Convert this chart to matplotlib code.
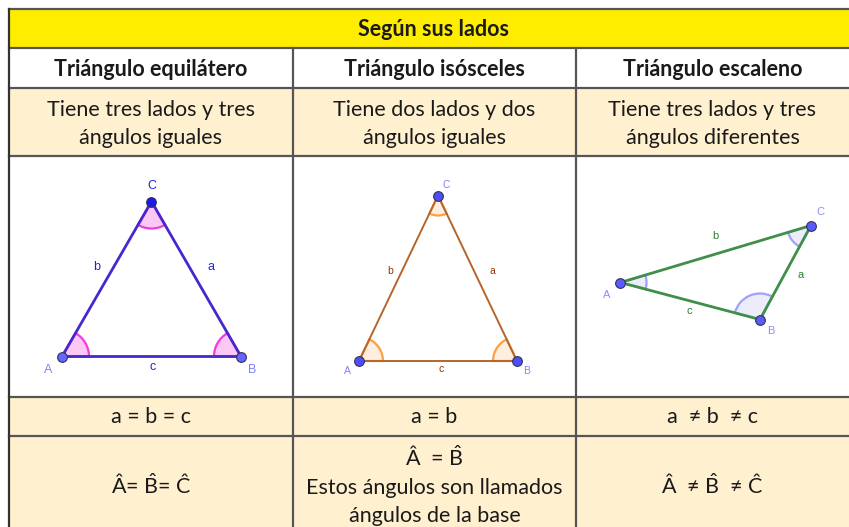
import numpy as np
import matplotlib.pyplot as plt
from matplotlib.patches import Rectangle, Wedge

plt.rcParams['font.family'] = ['Lato', 'DejaVu Sans']
plt.rcParams['mathtext.fontset'] = 'custom'
plt.rcParams['mathtext.rm'] = 'Lato'
plt.rcParams['mathtext.it'] = 'Lato'

B_HAT = r'$\hat{\mathrm{B}}$'

# table content
title = 'Según sus lados'
col_titles = ['Triángulo equilátero', 'Triángulo isósceles', 'Triángulo escaleno']
descriptions = ['Tiene tres lados y tres\nángulos iguales',
                'Tiene dos lados y dos\nángulos iguales',
                'Tiene tres lados y tres\nángulos diferentes']
side_rules = ['a = b = c', 'a = b', 'a  ≠ b  ≠ c']
angle_rules = ['Â= ' + B_HAT + '= Ĉ',
               'Â  = ' + B_HAT + '\nEstos ángulos son llamados\nángulos de la base',
               'Â  ≠ ' + B_HAT + '  ≠ Ĉ']

# grid (pixel positions of the table)
col_edges = [9, 293, 576, 849]
row_edges = [9, 47.5, 87.5, 156, 396.5, 436, 540]

# triangle vertices A, B, C for each cell
tri_equi = np.array([[62, 356.5], [241, 356.5], [151.5, 201.5]])
tri_isos = np.array([[359, 361], [517, 361], [438, 195.5]])
tri_esca = np.array([[620.5, 282.5], [760, 319.5], [811, 225.5]])

fig = plt.figure(figsize=(8.49, 5.27), dpi=100)
ax = fig.add_axes([0, 0, 1, 1])
ax.set_xlim(0, 849)
ax.set_ylim(527, 0)
ax.axis('off')

line_c = '#555555'
peach = '#fff0cf'
fills = ['#ffed00', 'white', peach, 'white', peach, peach]
for i, fc in enumerate(fills):
    ax.add_patch(Rectangle((col_edges[0], row_edges[i]), 849 - col_edges[0],
                           row_edges[i + 1] - row_edges[i], fc=fc, ec='none', zorder=0))
for y in row_edges[:-1]:
    ax.plot([col_edges[0], 849], [y, y], color=line_c, lw=1.6, zorder=1)
ax.plot([col_edges[0]] * 2, [row_edges[0], 527], color='#333333', lw=1.6, zorder=1)
for x in col_edges[1:3]:
    ax.plot([x, x], [row_edges[1], 527], color=line_c, lw=1.6, zorder=1)

txt_c = '#1a1a1a'
ax.text(434, 29, title, ha='center', va='center', fontsize=15.5,
        fontweight='bold', color=txt_c)
centers = [(col_edges[i] + col_edges[i + 1]) / 2 for i in range(3)]
for cx, t, d, s, a in zip(centers, col_titles, descriptions, side_rules, angle_rules):
    ax.text(cx, 69, t, ha='center', va='center', fontsize=15.5, fontweight='bold', color=txt_c)
    ax.text(cx, 124.5, d, ha='center', va='center', fontsize=15.5, color=txt_c, linespacing=1.5)
    ax.text(cx, 417, s, ha='center', va='center', fontsize=15.5, color=txt_c)
    ax.text(cx, 486, a, ha='center', va='center', fontsize=15.5, color=txt_c, linespacing=1.5)


def draw_triangle(P, line_col, lw, arc_fc, arc_ec, radii, pt_cols, names_col,
                  sides_col, name_pos, side_pos, fs):
    for i in range(3):
        v = P[i]
        n1, n2 = P[(i + 1) % 3], P[(i + 2) % 3]
        a1 = np.degrees(np.arctan2(n1[1] - v[1], n1[0] - v[0]))
        a2 = np.degrees(np.arctan2(n2[1] - v[1], n2[0] - v[0]))
        if (a2 - a1) % 360 > 180:
            a1, a2 = a2, a1
        ax.add_patch(Wedge(v, radii[i], a1, a2, fc=arc_fc, ec=arc_ec, lw=1.6, zorder=2))
    closed = np.vstack([P, P[:1]])
    ax.plot(closed[:, 0], closed[:, 1], color=line_col, lw=lw, zorder=3,
            solid_capstyle='round')
    for i in range(3):
        ax.plot(P[i, 0], P[i, 1], 'o', ms=7, mfc=pt_cols[i], mec='#333355',
                mew=0.8, zorder=4)
    for (x, y), n, c in zip(name_pos, 'ABC', names_col):
        ax.text(x, y, n, ha='center', va='center', fontsize=fs, color=c,
                family='Liberation Sans')
    for (x, y), n in zip(side_pos, 'abc'):
        ax.text(x, y, n, ha='center', va='center', fontsize=fs, color=sides_col,
                family='Liberation Sans')


draw_triangle(tri_equi, '#4826d0', 2.0, '#fbc8f6', '#f03ce0', [27, 27, 27],
              ['#6666ff', '#6666ff', '#1a1aee'], ['#8080ff', '#8080ff', '#2222cc'],
              '#2222dd', [(48, 370), (252, 370), (152, 186)],
              [(211, 267), (97, 267), (153, 367)], 9)
draw_triangle(tri_isos, '#b5652c', 1.4, '#fdeee0', '#ffa040', [24, 24, 20],
              ['#4d4dff'] * 3, ['#8080ff'] * 3, '#993300',
              [(347, 371), (527, 371), (446, 185)],
              [(492, 271), (390, 271), (441, 369)], 7.5)
draw_triangle(tri_esca, '#3f8f48', 2.0, '#ececfb', '#a0a0ff', [26, 26, 24],
              ['#5a5aff'] * 3, ['#8c8cff'] * 3, '#2e7d32',
              [(607, 295), (771, 331), (820, 212)],
              [(801, 275), (715, 236), (689, 311)], 8)

fig.savefig('out.png', dpi=100)
